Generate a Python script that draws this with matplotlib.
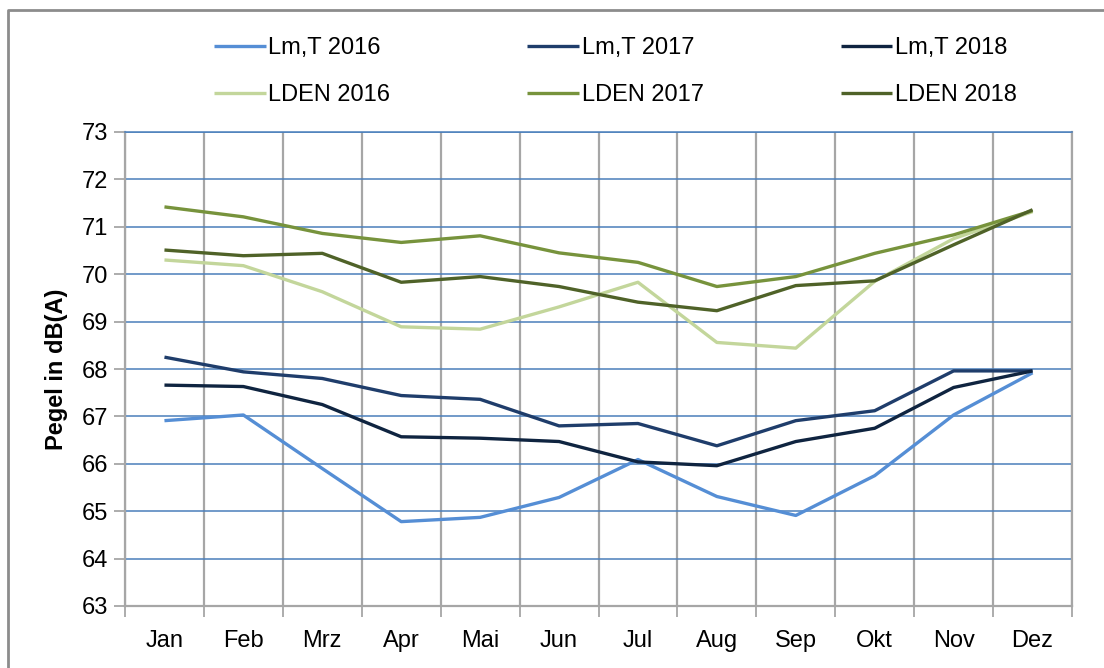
import matplotlib
matplotlib.use("Agg")
import matplotlib.pyplot as plt
from matplotlib.lines import Line2D
import numpy as np

plt.rcParams['font.family'] = ['Liberation Sans', 'DejaVu Sans']

months = ["Jan", "Feb", "Mrz", "Apr", "Mai", "Jun", "Jul", "Aug", "Sep", "Okt", "Nov", "Dez"]

lmt_2016 = [66.91, 67.03, 65.90, 64.78, 64.87, 65.29, 66.09, 65.31, 64.91, 65.75, 67.03, 67.92]
lmt_2017 = [68.25, 67.94, 67.80, 67.44, 67.36, 66.80, 66.85, 66.38, 66.91, 67.12, 67.96, 67.96]
lmt_2018 = [67.66, 67.63, 67.25, 66.57, 66.54, 66.47, 66.04, 65.96, 66.47, 66.75, 67.61, 67.96]
lden_2016 = [70.30, 70.18, 69.63, 68.89, 68.84, 69.31, 69.83, 68.56, 68.44, 69.85, 70.75, 71.32]
lden_2017 = [71.42, 71.21, 70.86, 70.67, 70.81, 70.45, 70.25, 69.74, 69.95, 70.44, 70.83, 71.34]
lden_2018 = [70.51, 70.39, 70.44, 69.83, 69.95, 69.74, 69.41, 69.23, 69.76, 69.86, 70.62, 71.36]

W, H = 1104, 668
fig = plt.figure(figsize=(W / 100, H / 100), dpi=100)
ax = fig.add_axes([125 / W, 1 - 606 / H, (1072 - 125) / W, (606 - 132) / H])

x = np.arange(len(months))
lw = 2.4
# drawing order so that later years / LDEN end up on top like the original
series = [
    (lmt_2016, "Lm,T 2016", "#558ED5"),
    (lden_2016, "LDEN 2016", "#C3D69B"),
    (lmt_2017, "Lm,T 2017", "#1F3D6B"),
    (lden_2017, "LDEN 2017", "#77933C"),
    (lmt_2018, "Lm,T 2018", "#0F2440"),
    (lden_2018, "LDEN 2018", "#4F6228"),
]
handles = []
for vals, label, col in series:
    h, = ax.plot(x, vals, color=col, lw=lw, label=label, solid_capstyle='butt')
    handles.append(h)

ax.set_xlim(-0.5, 11.5)
ax.set_ylim(63, 73)
ax.set_yticks(np.arange(63, 74, 1))
ax.set_xticks(np.arange(-0.5, 12, 1))
ax.set_xticklabels([])
ax.set_xticks(x, minor=True)
ax.set_xticklabels(months, minor=True)

ax.tick_params(axis='x', which='major', direction='out', length=8, color='#A6A6A6', width=1.3)
ax.tick_params(axis='x', which='minor', length=0, labelsize=17, pad=17)
ax.tick_params(axis='y', direction='out', length=8, color='#A6A6A6', width=1.3, labelsize=17, pad=4)

ax.grid(axis='y', color='#4A7EBB', lw=1.1)
ax.grid(axis='x', which='major', color='#A6A6A6', lw=1.6)
ax.set_axisbelow(True)

for s in ['left', 'bottom', 'right']:
    ax.spines[s].set_color('#A6A6A6')
    ax.spines[s].set_linewidth(1.6)
ax.spines['top'].set_color('#4A7EBB')
ax.spines['top'].set_linewidth(1.1)

ax.set_ylabel("Pegel in dB(A)", fontsize=17, fontweight='bold', labelpad=10)

fig.legend(handles=handles, ncol=3, loc='upper left',
           bbox_to_anchor=(214 / W, 1 - 37 / H), frameon=False, fontsize=17,
           handlelength=2.2, handletextpad=0.1, columnspacing=5.8,
           labelspacing=1.06, borderpad=0, borderaxespad=0)

# outer chart frame: only left and top edges are visible in the original
fx, fy = 8 / W, 1 - 10 / H
fig.lines.append(Line2D([fx, fx, 1.0], [0.0, fy, fy], transform=fig.transFigure,
                        color='#8C8C8C', lw=2))

fig.savefig("out.png", dpi=100)
